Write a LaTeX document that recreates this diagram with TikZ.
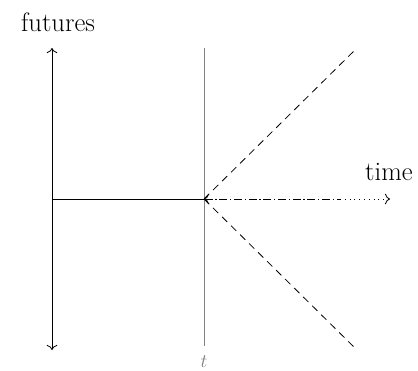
\documentclass[tikz,border=0pt]{standalone}
\usetikzlibrary{arrows.meta}
\begin{document}
\begin{tikzpicture}[x=0.75pt,y=-0.75pt,line width=0.6pt,>={To[scale=1.3]},
  lbl/.style={font=\fontsize{20}{24}\selectfont}]
\useasboundingbox (0,0) rectangle (418,371);
\coordinate (top) at (52,48);
\coordinate (bot) at (52,350);
\coordinate (past) at (52,199);
\coordinate (now) at (204,199);
\coordinate (up) at (357,48);
\coordinate (down) at (357,350);
\coordinate (ttop) at (204,48);
\coordinate (tbot) at (204,346);
\coordinate (mid) at (340,199);
\coordinate (end) at (390,199);
\draw[<->] (top) -- (bot);
\draw[gray,line width=0.4pt] (ttop) -- (tbot);
\draw (past) -- (now);
\draw[dash pattern=on 5.5pt off 4pt] (now) -- (up);
\draw[dash pattern=on 5.5pt off 4pt] (now) -- (down);
\draw[<-,dash pattern=on 6pt off 2pt on 1pt off 2pt] (now) -- (mid);
\draw[->,dash pattern=on 0.6pt off 3pt] (mid) -- (end);
\node[lbl] (futures) at (58,22) {futures};
\node[lbl] (time) at (389,172) {time};
\node[gray,font=\fontsize{14}{16}\selectfont] (tlabel) at (204,362) {$t$};
\end{tikzpicture}
\end{document}
